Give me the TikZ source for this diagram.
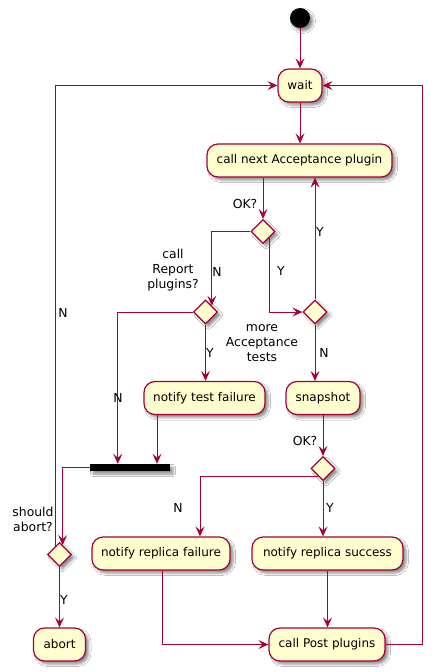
\documentclass[tikz,border=0pt]{standalone}
\usepackage{fontspec}
\setmainfont{DejaVu Sans}
\usetikzlibrary{shapes.geometric,arrows.meta,shadows.blur,calc}
\definecolor{pborder}{HTML}{A80036}
\definecolor{pfill}{HTML}{FEFECE}
\begin{document}
\begin{tikzpicture}[x=1pt,y=-1pt,
 shadowed/.style={blur shadow={shadow xshift=3pt, shadow yshift=-3pt, shadow blur radius=2.5pt, shadow opacity=45}},
 act/.style={draw=pborder, fill=pfill, line width=1.2pt, rounded corners=11pt, minimum height=33pt, inner sep=0pt, font=\fontsize{12}{14}\selectfont, shadowed},
 dia/.style={diamond, draw=pborder, fill=pfill, line width=1.2pt, minimum width=24pt, minimum height=24pt, inner sep=0pt, shadowed},
 conn/.style={draw=pborder, line width=1pt, -{Stealth[length=10pt,width=9pt,inset=4pt]}},
 lbl/.style={font=\fontsize{12.4}{15}\selectfont, align=center, inner sep=0pt}
]
\useasboundingbox[fill=white] (0,0) rectangle (432,672);

% nodes
\node[circle, fill=black, minimum size=20pt, inner sep=0pt, shadowed] (start) at (300,18) {};
\node[act, minimum width=44pt] (wait) at (300,85.5) {wait};
\node[act, minimum width=185pt] (call) at (299.5,160.5) {call next Acceptance plugin};
\node[dia] (d1) at (263,231.5) {};
\node[dia] (d2) at (205.5,312) {};
\node[dia] (d3) at (315,312) {};
\node[act, minimum width=121pt] (tf) at (204.5,398) {notify test failure};
\node[act, minimum width=74pt] (snap) at (323,398) {snapshot};
\node[fill=black, minimum width=80pt, minimum height=7pt, inner sep=0pt, shadowed] (bar) at (130,467.5) {};
\node[dia] (d5) at (323,468.5) {};
\node[dia] (d4) at (59.5,554.5) {};
\node[act, minimum width=138pt] (rf) at (161,553.5) {notify replica failure};
\node[act, minimum width=151pt] (rs) at (327.5,553.5) {notify replica success};
\node[act, minimum width=52pt] (abort) at (59.5,644.5) {abort};
\node[act, minimum width=116pt] (post) at (327,644.5) {call Post plugins};

% helper points on shapes
\coordinate (d1se) at ($(d1.east)!0.5!(d1.south)$);
\coordinate (d2ne) at ($(d2.north)!0.5!(d2.east)$);
\coordinate (d4ne) at ($(d4.north)!0.25!(d4.east)$);
\coordinate (d4nw) at ($(d4.north)!0.33!(d4.west)$);
\coordinate (d5sw) at ($(d5.west)!0.6!(d5.south)$);
\coordinate (barA) at ($(bar.north west)+(28,0)$);
\coordinate (tfo) at ($(tf.south)+(-47.5,0)$);
\coordinate (rfin) at ($(rf.north)+(39,0)$);
\coordinate (rfo) at ($(rf.south)+(1,0)$);
\coordinate (poste) at ($(post.east)+(37,0)$);

% connectors
\draw[conn] (start.south) -- (wait.north);
\draw[conn] (wait.south) -- (wait.south |- call.north);
\draw[conn] (call.south -| d1.north) -- (d1.north);
\draw[conn] (d1.west) -| (d2ne);
\draw[conn] (d1se) |- (d3.west);
\draw[conn] (d3.north) -- (d3.north |- call.south);
\draw[conn] (d3.south) -- (d3.south |- snap.north);
\draw[conn] (d2.south) -- (d2.south |- tf.north);
\draw[conn] (d2.west) -| (barA);
\draw[conn] (tfo) -- (tfo |- bar.north);
\draw[conn] (bar.west) -| (d4ne);
\draw[conn] (d4nw) |- (wait.west);
\draw[conn] (d4.south) -- (abort.north);
\draw[conn] (snap.south) -- (d5.north);
\draw[conn] (d5sw) -| (rfin);
\draw[conn] (d5.south) -- (d5.south |- rs.north);
\draw[conn] (rfo) |- (post.west);
\draw[conn] (rs.south) -- (rs.south |- post.north);
\draw[conn] (post.east) -- (poste) |- (wait.east);

% labels
\node[lbl] (lok1) at (245,204) {OK?};
\node[lbl] (ln1) at (217,272) {N};
\node[lbl] (ly1) at (281,271) {Y};
\node[lbl] (ly3) at (320,232) {Y};
\node[lbl] (lrep) at (173,270) {call\\Report\\plugins?};
\node[lbl] (lmore) at (262,343) {more\\Acceptance\\tests};
\node[lbl] (ln3) at (324,353) {N};
\node[lbl] (ly2) at (210,353) {Y};
\node[lbl] (ln2) at (118,398) {N};
\node[lbl] (ln4) at (63,313) {N};
\node[lbl] (lok2) at (305,441) {OK?};
\node[lbl] (ln5) at (178,508) {N};
\node[lbl] (ly5) at (330,508) {Y};
\node[lbl] (lab) at (33,519) {should\\abort?};
\node[lbl] (ly4) at (64,600) {Y};
\end{tikzpicture}
\end{document}
